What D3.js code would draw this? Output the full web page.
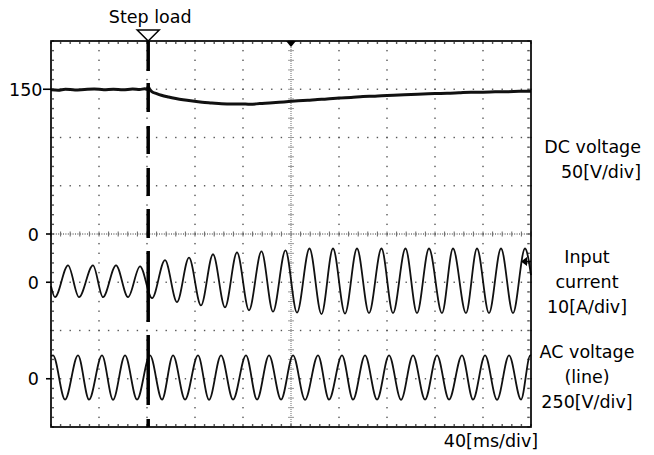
<!DOCTYPE html>
<html>
<head>
<meta charset="utf-8">
<script src="https://cdnjs.cloudflare.com/ajax/libs/d3/7.8.5/d3.min.js"></script>
<style>
  body { margin: 0; background: #fff; }
  svg text { font-family: "DejaVu Sans", sans-serif; font-size: 17.5px; fill: #000; }
</style>
</head>
<body>
<svg id="scope" width="654" height="455"></svg>
<script>
// Time base: 40 ms/div, 10 div
const timeDomain = [0, 400]
const stepMs = 81

// DC voltage [V], 50 V/div
const dcT = [0, 6, 12, 20, 28, 36, 44, 52, 60, 68, 74, 78, 80, 81, 82, 84, 88, 92, 98, 104, 110, 118, 126, 134, 142,
  150, 158, 166, 174, 182, 190, 198, 206, 214, 222, 230, 240, 250, 260, 270, 280, 290, 300, 310, 320, 330, 340,
  350, 360, 370, 380, 390, 400]
const dcV = [149.5, 149, 150, 149.3, 149.8, 150.2, 149.6, 150, 149.4, 150.3, 149.8, 150.5, 150, 152.5, 150.5, 147.5,
  145.5, 143.8, 142, 140.5, 139.2, 137.8, 136.6, 135.8, 135, 134.6, 134.8, 134.4, 135.2, 135.8, 136.5, 137.3, 138,
  138.6, 139.3, 139.8, 141, 141.5, 142.5, 142.8, 143.5, 144, 144.6, 145, 145.5, 145.8, 146.4, 147, 147, 147.3,
  147.4, 147.8, 148]

// Input current [A], 10 A/div (peaks and troughs)
const iT = [0, 3.3, 14.2, 23.3, 35, 43.3, 54.2, 64.2, 74.2, 84.2, 95, 105, 115, 125, 135, 145, 155, 165, 175.4, 185,
  195.4, 205, 215.4, 225.4, 235, 245, 255, 265, 275.4, 285, 295.4, 305, 315, 325.8, 335, 345.8, 355, 365, 375, 385,
  395, 400]
const iA = [-0.8, -3.1, 3.5, -3.1, 3.5, -3.1, 3.5, -3.1, 3.3, -3.3, 4.6, -4.1, 5.1, -4.8, 5.8, -5.2, 6.2, -5.8, 6.4,
  -6.1, 6.6, -6.3, 7.0, -6.6, 7.0, -6.5, 7.0, -6.4, 7.0, -6.4, 7.0, -6.4, 7.0, -6.4, 7.0, -6.4, 7.0, -6.4, 7.0,
  -6.4, 7.0, 1.5]
const iTrigger = 4.3

// AC line voltage [V], 250 V/div (peaks and troughs)
const acT = [0, 1.7, 11.7, 22.5, 31.7, 42.5, 51.7, 61.7, 71.7, 82.5, 92.5, 101.7, 111.7, 122.5, 131.7, 141.7, 151.7,
  162.5, 171.7, 181.7, 191.7, 201.7, 211.7, 222.5, 231.7, 242.5, 251.7, 261.7, 271.7, 281.7, 291.7, 301.7, 311.7,
  321.7, 331.7, 342.5, 351.7, 361.7, 371.7, 381.7, 391.7, 399.4, 400]
const acV = [118, 121, -108, 121, -108, 121, -109, 121, -108, 121, -108, 121, -108, 121, -109, 121, -108, 121, -108,
  121, -108, 121, -109, 121, -108, 121, -108, 121, -108, 121, -109, 121, -108, 121, -108, 121, -108, 121, -109,
  121, -108, 121, 120]

// Labels
const markLabels = ['150', '0', '0', '0']
const markValues = [150, 0, 0, 0]
const markChannels = ['dc', 'dc', 'i', 'ac']
const dcLabel = ['DC voltage', '50[V/div]']
const iLabel = ['Input', 'current', '10[A/div]']
const acLabel = ['AC voltage', '(line)', '250[V/div]']
const timeLabel = '40[ms/div]'
const stepLabel = 'Step load'

const svg = d3.select('#scope')
const frame = { left: 51, right: 531, top: 41, bottom: 427 }

const xScale = d3.scaleLinear().domain(timeDomain).range([frame.left, frame.right])
const divScale = d3.scaleLinear().domain([-4, 4]).range([frame.bottom, frame.top])
const scales = {
  dc: d3.scaleLinear().domain([-200, 200]).range([frame.bottom, frame.top]),
  i: d3.scaleLinear().domain([-30, 50]).range([frame.bottom, frame.top]),
  ac: d3.scaleLinear().domain([-250, 1750]).range([frame.bottom, frame.top])
}

// Graticule: dotted major lines, minor ticks on edges and centre lines
const grid = svg.append('g').attr('fill', '#555')
const minorX = d3.range(0, 51).map(i => i * 8)
const minorY = d3.range(0, 41).map(i => -4 + i * 0.2)
const dot = (x, y, w, h) => grid.append('rect')
  .attr('x', x - w / 2).attr('y', y - h / 2).attr('width', w).attr('height', h)

;[-3, -2, -1, 1, 2, 3].forEach(d => minorX.forEach(t => dot(xScale(t), divScale(d), 1.4, 1.4)))
;[40, 80, 120, 160, 240, 280, 320, 360].forEach(t => minorY.forEach(d => dot(xScale(t), divScale(d), 1.4, 1.4)))
minorX.forEach(t => {
  dot(xScale(t), frame.top + 2, 1.4, 2)
  dot(xScale(t), frame.bottom - 2, 1.4, 2)
})
minorY.forEach(d => {
  dot(frame.left + 2, divScale(d), 2, 1.4)
  dot(frame.right - 2.5, divScale(d), 2.5, 1.4)
})

// Centre cross hair
svg.append('line')
  .attr('x1', frame.left).attr('x2', frame.right)
  .attr('y1', divScale(0)).attr('y2', divScale(0))
  .attr('stroke', '#333').attr('stroke-width', 1).attr('stroke-dasharray', '1 1.4')
svg.append('g').selectAll('line').data(minorX).join('line')
  .attr('x1', d => xScale(d)).attr('x2', d => xScale(d))
  .attr('y1', divScale(0) - 2.5).attr('y2', divScale(0) + 2.5)
  .attr('stroke', '#666').attr('stroke-width', 1)
svg.append('line')
  .attr('x1', xScale(200)).attr('x2', xScale(200))
  .attr('y1', frame.top).attr('y2', frame.bottom)
  .attr('stroke', '#888').attr('stroke-width', 1.2).attr('stroke-dasharray', '1 1')
svg.append('g').selectAll('line').data(minorY).join('line')
  .attr('x1', xScale(200) - 3).attr('x2', xScale(200) + 3)
  .attr('y1', d => divScale(d)).attr('y2', d => divScale(d))
  .attr('stroke', '#999').attr('stroke-width', 1)

// Traces
const trace = (ts, vs, scale, width) => {
  const pts = ts.map((t, i) => [t, vs[i]])
  svg.append('path')
    .datum(pts)
    .attr('fill', 'none')
    .attr('stroke', '#111')
    .attr('stroke-width', width)
    .attr('stroke-linejoin', 'round')
    .attr('d', d3.line()
      .x(d => xScale(d[0]))
      .y(d => scale(d[1]))
      .curve(d3.curveMonotoneX))
}
trace(dcT, dcV, scales.dc, 3)
trace(iT, iA, scales.i, 1.8)
trace(acT, acV, scales.ac, 1.8)

// Frame
svg.append('rect')
  .attr('x', frame.left).attr('y', frame.top)
  .attr('width', frame.right - frame.left).attr('height', frame.bottom - frame.top)
  .attr('fill', 'none').attr('stroke', '#000').attr('stroke-width', 1.7)

// Step load marker
const xs = xScale(stepMs)
svg.append('line')
  .attr('x1', xs).attr('x2', xs).attr('y1', frame.top).attr('y2', frame.bottom)
  .attr('stroke', '#000').attr('stroke-width', 3.5)
  .attr('stroke-dasharray', '30 12 29 14 28 14 28 13 29 13 71 13 70 14 20')
svg.append('path')
  .attr('d', `M${xs - 11},${frame.top - 11}L${xs + 11},${frame.top - 11}L${xs},${frame.top}Z`)
  .attr('fill', '#fff').attr('stroke', '#000').attr('stroke-width', 1.5)
svg.append('text')
  .attr('x', xs + 2).attr('y', 23)
  .attr('text-anchor', 'middle')
  .text(stepLabel)

// Centre time marker
const xc = xScale(200)
svg.append('path')
  .attr('d', `M${xc - 5},${frame.top}L${xc + 5},${frame.top}L${xc},${frame.top + 6}Z`)
  .attr('fill', '#000')

// Trigger level marker on the current channel
const yt = scales.i(iTrigger)
svg.append('path')
  .attr('d', `M${frame.right - 10},${yt}L${frame.right - 4},${yt - 4.5}L${frame.right - 4},${yt + 4.5}Z`)
  .attr('fill', '#000')
svg.append('line')
  .attr('x1', frame.right - 6).attr('x2', frame.right).attr('y1', yt).attr('y2', yt)
  .attr('stroke', '#000').attr('stroke-width', 1.5)

// Channel level marks on the left
markLabels.forEach((label, i) => {
  const y = scales[markChannels[i]](markValues[i])
  const len = label.length > 1 ? 8 : 5
  svg.append('line')
    .attr('x1', frame.left - len).attr('x2', frame.left)
    .attr('y1', y).attr('y2', y)
    .attr('stroke', '#000').attr('stroke-width', 1.6)
  svg.append('text')
    .attr('x', frame.left - len - (label.length > 1 ? 0.5 : 7))
    .attr('y', y + 6.5)
    .attr('text-anchor', 'end')
    .text(label)
})

// Channel captions on the right
const caption = (lines, x, y0, anchor) => {
  lines.forEach((s, i) => {
    svg.append('text')
      .attr('x', x).attr('y', y0 + i * 25)
      .attr('text-anchor', anchor)
      .text(s)
  })
}
caption(dcLabel, 641, 153, 'end')
caption(iLabel, 587, 263, 'middle')
caption(acLabel, 587, 358, 'middle')

svg.append('text')
  .attr('x', 491).attr('y', 447)
  .attr('text-anchor', 'middle')
  .text(timeLabel)
</script>
</body>
</html>
